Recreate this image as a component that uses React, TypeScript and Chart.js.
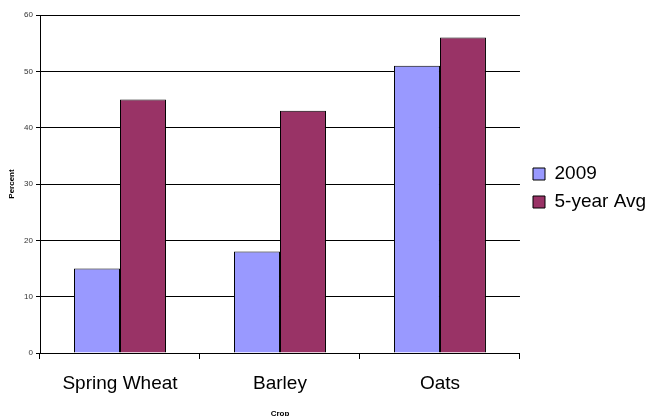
import React, { useEffect, useRef } from "react";
import { Chart, registerables } from "chart.js";

Chart.register(...registerables);

const categories = ["Spring Wheat", "Barley", "Oats"];
const series2009 = [15, 18, 51];
const seriesAvg = [45, 43, 56];
const seriesNames = ["2009", "5-year Avg"];
const yTicks = [0, 10, 20, 30, 40, 50, 60];

const FONT = "Liberation Sans, Arial, sans-serif";

const legendShift = {
  id: "legendShift",
  afterLayout(chart: any) {
    const lg = chart.legend;
    if (!lg) return;
    const dx = 533 - 9 - lg.left;
    lg.left += dx;
    lg.right += dx;
    lg.top += 4;
    lg.bottom += 4;
  },
};

export default function App() {
  const ref = useRef<HTMLCanvasElement | null>(null);
  useEffect(() => {
    if (!ref.current) return;
    const chart = new Chart(ref.current, {
      type: "bar",
      data: {
        labels: categories,
        datasets: [
          {
            label: seriesNames[0],
            data: series2009,
            backgroundColor: "#9999FF",
            borderColor: "#000000",
            borderWidth: 1,
          },
          {
            label: seriesNames[1],
            data: seriesAvg,
            backgroundColor: "#993366",
            borderColor: "#000000",
            borderWidth: 1,
          },
        ],
      },
      plugins: [legendShift],
      options: {
        animation: false,
        responsive: false,
        maintainAspectRatio: false,
        datasets: { bar: { categoryPercentage: 0.575, barPercentage: 1 } },
        layout: { padding: { top: 15, right: -4, left: 0, bottom: 0 } },
        plugins: {
          tooltip: { enabled: false },
          legend: {
            position: "right",
            fullSize: false,
            labels: {
              boxWidth: 12,
              boxHeight: 12,
              padding: 9,
              color: "#000",
              font: { family: FONT, size: 19 },
            },
          },
        },
        scales: {
          x: {
            grid: {
              offset: true,
              drawOnChartArea: false,
              color: "#000",
              tickLength: 6,
            },
            border: { color: "#000", width: 1 },
            ticks: {
              color: "#000",
              padding: 13,
              font: { family: FONT, size: 19 },
            },
            title: {
              display: true,
              text: "Crop",
              color: "#000",
              padding: { top: 4, bottom: -3 },
              font: { family: FONT, size: 8, weight: "bold" },
            },
            afterFit: (s: any) => {
              s.height = 63;
            },
          },
          y: {
            min: 0,
            max: 60,
            afterBuildTicks: (s: any) => {
              s.ticks = yTicks.map((v) => ({ value: v }));
            },
            grid: { color: "#000", tickLength: 4 },
            border: { color: "#000", width: 1 },
            ticks: {
              color: "#333",
              padding: 3,
              font: { family: FONT, size: 8 },
            },
            title: {
              display: true,
              text: "Percent",
              color: "#000",
              padding: { top: 7, bottom: 6 },
              font: { family: FONT, size: 8, weight: "bold" },
            },
            afterFit: (s: any) => {
              s.width = 40;
            },
          },
        },
      },
    });
    return () => chart.destroy();
  }, []);
  return (
    <div style={{ position: "fixed", left: 0, top: 0, width: 648, height: 416, background: "#fff" }}>
      <canvas ref={ref} width={648} height={416} style={{ width: 648, height: 416 }} />
    </div>
  );
}
